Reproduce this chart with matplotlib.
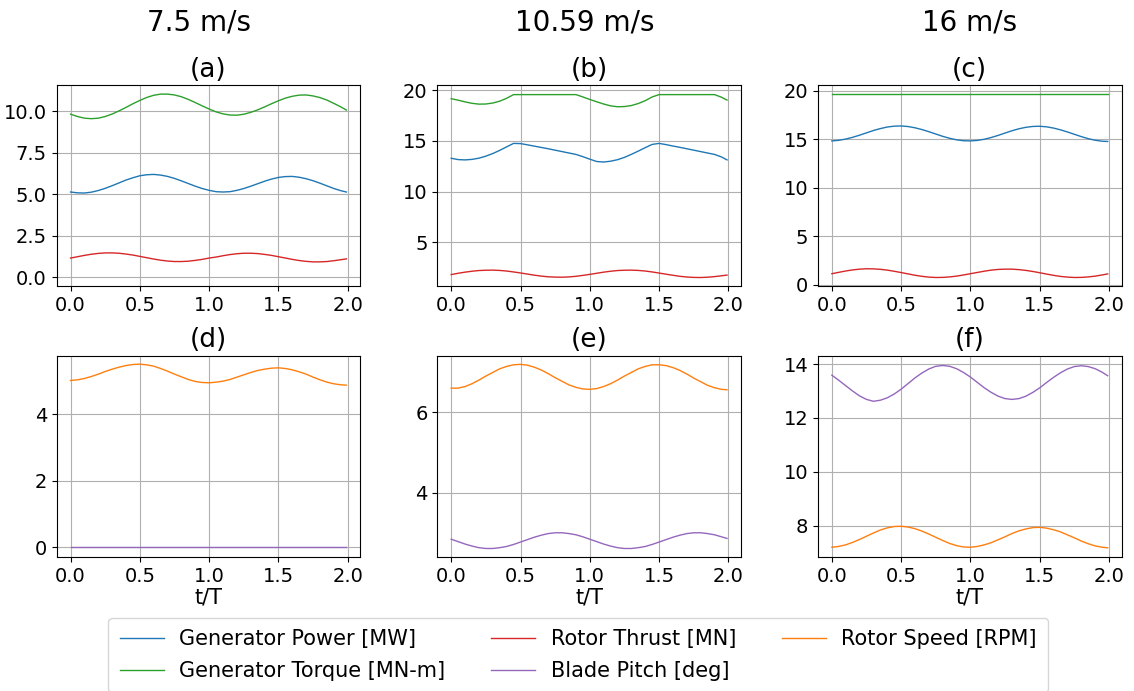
import matplotlib
matplotlib.use('Agg')
import matplotlib.pyplot as plt

# time axis, t/T
t = [0.00, 0.05, 0.10, 0.15, 0.20, 0.25, 0.30, 0.35, 0.40, 0.45,
     0.50, 0.55, 0.60, 0.65, 0.70, 0.75, 0.80, 0.85, 0.90, 0.95,
     1.00, 1.05, 1.10, 1.15, 1.20, 1.25, 1.30, 1.35, 1.40, 1.45,
     1.50, 1.55, 1.60, 1.65, 1.70, 1.75, 1.80, 1.85, 1.90, 1.95, 1.99]

speeds = ['7.5 m/s', '10.59 m/s', '16 m/s']
letters = ['(a)', '(b)', '(c)', '(d)', '(e)', '(f)']

# 7.5 m/s
power_a = [5.13, 5.08, 5.07, 5.12, 5.22, 5.35, 5.51, 5.68, 5.85, 5.99,
           6.11, 6.17, 6.19, 6.15, 6.07, 5.95, 5.80, 5.64, 5.48, 5.34,
           5.23, 5.15, 5.13, 5.15, 5.23, 5.34, 5.48, 5.63, 5.78, 5.91,
           6.01, 6.06, 6.07, 6.02, 5.93, 5.81, 5.66, 5.50, 5.34, 5.21, 5.13]
torque_a = [9.82, 9.68, 9.58, 9.55, 9.58, 9.68, 9.83, 10.02, 10.23, 10.45,
            10.65, 10.83, 10.96, 11.03, 11.03, 10.98, 10.87, 10.71, 10.52, 10.32,
            10.13, 9.96, 9.84, 9.77, 9.76, 9.82, 9.93, 10.08, 10.26, 10.45,
            10.63, 10.79, 10.90, 10.97, 10.98, 10.92, 10.82, 10.67, 10.47, 10.26, 10.07]
thrust_a = [1.15, 1.23, 1.31, 1.38, 1.43, 1.46, 1.46, 1.44, 1.39, 1.33,
            1.25, 1.17, 1.09, 1.02, 0.97, 0.94, 0.94, 0.96, 1.01, 1.07,
            1.15, 1.21, 1.29, 1.36, 1.41, 1.44, 1.44, 1.42, 1.37, 1.31,
            1.23, 1.15, 1.07, 1.00, 0.95, 0.92, 0.92, 0.94, 0.99, 1.05, 1.10]
rpm_a = [5.01, 5.03, 5.07, 5.13, 5.20, 5.28, 5.35, 5.41, 5.46, 5.49,
         5.50, 5.48, 5.44, 5.37, 5.29, 5.20, 5.12, 5.04, 4.98, 4.95,
         4.94, 4.96, 4.99, 5.04, 5.11, 5.18, 5.25, 5.31, 5.35, 5.38,
         5.39, 5.37, 5.33, 5.27, 5.20, 5.11, 5.03, 4.96, 4.91, 4.88, 4.87]
pitch_a = [0.0] * 41

# 10.59 m/s
power_b = [13.29, 13.16, 13.13, 13.18, 13.30, 13.50, 13.76, 14.07, 14.42, 14.76,
           14.74, 14.62, 14.49, 14.36, 14.23, 14.09, 13.95, 13.81, 13.67, 13.45,
           13.20, 12.97, 12.92, 13.00, 13.15, 13.38, 13.68, 14.00, 14.34, 14.66,
           14.76, 14.64, 14.50, 14.37, 14.23, 14.09, 13.95, 13.81, 13.67, 13.42, 13.13]
torque_b = [19.18, 19.03, 18.86, 18.72, 18.64, 18.65, 18.75, 18.93, 19.22, 19.58,
            19.58, 19.58, 19.58, 19.58, 19.58, 19.58, 19.58, 19.58, 19.58, 19.35,
            19.10, 18.87, 18.65, 18.47, 18.38, 18.40, 18.50, 18.70, 18.98, 19.35,
            19.58, 19.58, 19.58, 19.58, 19.58, 19.58, 19.58, 19.58, 19.58, 19.32, 19.04]
thrust_b = [1.80, 1.93, 2.04, 2.13, 2.20, 2.23, 2.24, 2.21, 2.15, 2.06,
            1.96, 1.85, 1.74, 1.65, 1.58, 1.55, 1.54, 1.57, 1.63, 1.72,
            1.82, 1.93, 2.04, 2.13, 2.20, 2.23, 2.24, 2.21, 2.15, 2.06,
            1.95, 1.84, 1.73, 1.63, 1.56, 1.52, 1.51, 1.54, 1.60, 1.68, 1.75]
rpm_b = [6.60, 6.60, 6.64, 6.71, 6.80, 6.90, 6.99, 7.08, 7.14, 7.18,
         7.19, 7.17, 7.12, 7.05, 6.96, 6.86, 6.77, 6.68, 6.62, 6.58,
         6.57, 6.59, 6.64, 6.71, 6.80, 6.90, 6.99, 7.08, 7.14, 7.18,
         7.18, 7.16, 7.11, 7.04, 6.95, 6.85, 6.76, 6.67, 6.61, 6.57, 6.56]
pitch_b = [2.85, 2.79, 2.73, 2.68, 2.64, 2.62, 2.62, 2.64, 2.67, 2.72,
           2.78, 2.84, 2.90, 2.95, 2.99, 3.01, 3.01, 2.99, 2.96, 2.91,
           2.85, 2.79, 2.73, 2.68, 2.64, 2.62, 2.62, 2.64, 2.67, 2.72,
           2.78, 2.84, 2.90, 2.95, 2.99, 3.01, 3.01, 2.99, 2.96, 2.91, 2.87]

# 16 m/s
power_c = [14.82, 14.88, 15.01, 15.19, 15.41, 15.65, 15.89, 16.09, 16.25, 16.34,
           16.36, 16.30, 16.17, 15.99, 15.77, 15.53, 15.29, 15.09, 14.93, 14.84,
           14.82, 14.87, 14.99, 15.17, 15.39, 15.63, 15.87, 16.07, 16.22, 16.31,
           16.33, 16.27, 16.14, 15.96, 15.74, 15.50, 15.26, 15.05, 14.89, 14.79, 14.76]
torque_c = [19.62] * 41
thrust_c = [1.14, 1.28, 1.42, 1.53, 1.61, 1.65, 1.64, 1.59, 1.51, 1.39,
            1.26, 1.12, 0.98, 0.87, 0.79, 0.75, 0.76, 0.81, 0.89, 1.01,
            1.14, 1.27, 1.40, 1.51, 1.58, 1.61, 1.61, 1.56, 1.48, 1.37,
            1.24, 1.10, 0.97, 0.86, 0.79, 0.75, 0.76, 0.81, 0.89, 1.01, 1.12]
rpm_c = [7.20, 7.23, 7.29, 7.38, 7.49, 7.61, 7.73, 7.84, 7.92, 7.97,
         7.98, 7.95, 7.89, 7.80, 7.69, 7.57, 7.45, 7.34, 7.26, 7.21,
         7.20, 7.23, 7.29, 7.37, 7.48, 7.59, 7.71, 7.81, 7.88, 7.93,
         7.94, 7.91, 7.85, 7.77, 7.66, 7.55, 7.43, 7.33, 7.25, 7.20, 7.18]
pitch_c = [13.59, 13.40, 13.20, 13.00, 12.82, 12.69, 12.62, 12.66, 12.75, 12.89,
           13.07, 13.28, 13.49, 13.67, 13.82, 13.92, 13.95, 13.92, 13.83, 13.69,
           13.52, 13.32, 13.12, 12.95, 12.81, 12.72, 12.69, 12.72, 12.81, 12.95,
           13.12, 13.32, 13.51, 13.68, 13.82, 13.91, 13.94, 13.91, 13.83, 13.70, 13.57]

powers = [power_a, power_b, power_c]
torques = [torque_a, torque_b, torque_c]
thrusts = [thrust_a, thrust_b, thrust_c]
rpms = [rpm_a, rpm_b, rpm_c]
pitches = [pitch_a, pitch_b, pitch_c]

topLims = [(-0.56, 11.58), (0.63, 20.53), (-0.17, 20.58)]
botLims = [(-0.29, 5.76), (2.41, 7.41), (6.84, 14.32)]
botTicks = [[0, 2, 4], [4, 6], [8, 10, 12, 14]]
headX = [0.1755, 0.516, 0.855]  # column header centres

lw = 1.0
tickSz = 14
fig, axs = plt.subplots(2, 3, figsize=(11.34, 6.91), dpi=100)
plt.subplots_adjust(left=0.050, right=0.989, top=0.877, bottom=0.194, wspace=0.254, hspace=0.343)

for j in range(3):
    ax = axs[0, j]
    h1, = ax.plot(t, powers[j], color='tab:blue', lw=lw, label='Generator Power [MW]')
    h2, = ax.plot(t, torques[j], color='tab:green', lw=lw, label='Generator Torque [MN-m]')
    h3, = ax.plot(t, thrusts[j], color='tab:red', lw=lw, label='Rotor Thrust [MN]')
    ax.set_ylim(topLims[j])
    ax.set_title(letters[j], fontsize=19)

    ax = axs[1, j]
    h5, = ax.plot(t, rpms[j], color='tab:orange', lw=lw, label='Rotor Speed [RPM]')
    h4, = ax.plot(t, pitches[j], color='tab:purple', lw=lw, label='Blade Pitch [deg]')
    ax.set_ylim(botLims[j])
    ax.set_yticks(botTicks[j])
    ax.set_title(letters[j + 3], fontsize=19)
    ax.set_xlabel('t/T', fontsize=15, labelpad=1)

for ax in axs.flat:
    ax.set_xlim(-0.1, 2.09)
    ax.set_xticks([0.0, 0.5, 1.0, 1.5, 2.0])
    ax.grid(True)
    ax.tick_params(labelsize=tickSz)

# speed headers over each column
for j in range(3):
    fig.text(headX[j], 0.968, speeds[j], ha='center', va='center', fontsize=20)

fig.legend([h1, h2, h3, h4, h5], [h.get_label() for h in [h1, h2, h3, h4, h5]],
           loc='lower center', bbox_to_anchor=(0.51, -0.017), ncol=3, fontsize=15,
           handlelength=2.1, handletextpad=0.75, columnspacing=2.2,
           borderpad=0.55, labelspacing=0.55)

plt.savefig('out.png', dpi=100)
